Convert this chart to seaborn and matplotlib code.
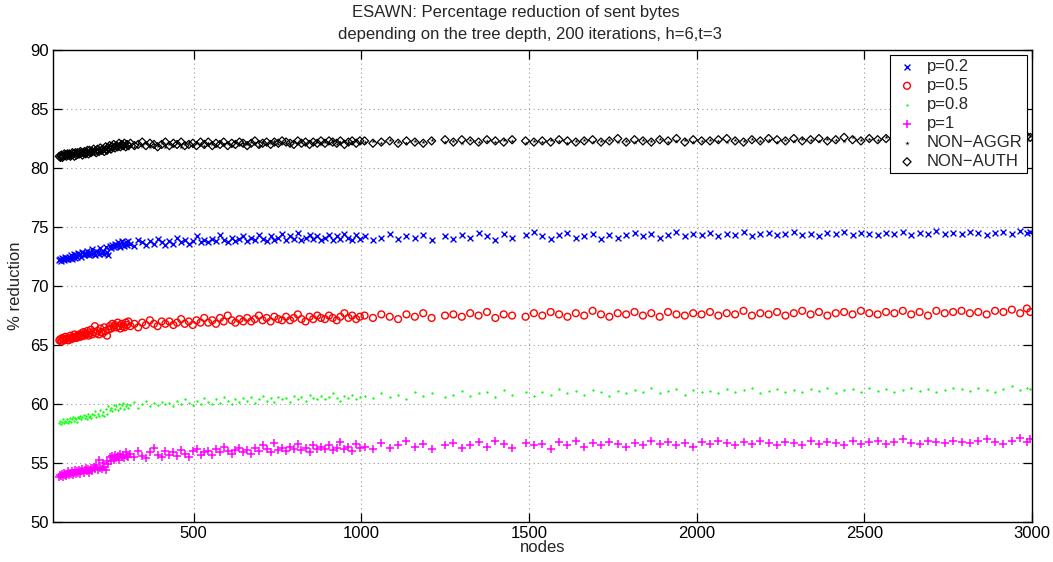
import matplotlib
matplotlib.use("Agg")
import matplotlib.pyplot as plt
import seaborn as sns
import pandas as pd

nodes = [100, 103, 106, 109, 112, 115, 118, 121, 124, 127,
         130, 133, 136, 139, 142, 145, 148, 151, 154, 157,
         160, 163, 166, 169, 172, 175, 178, 181, 184, 187,
         190, 194, 198, 202, 206, 210, 214, 218, 222, 226,
         230, 234, 238, 242, 246, 250, 254, 258, 262, 266,
         270, 274, 278, 282, 286, 290, 294, 298, 302, 306,
         312, 324, 335, 347, 358, 370, 382, 393, 405, 416,
         428, 440, 451, 463, 474, 486, 498, 509, 521, 532,
         544, 556, 567, 579, 590, 602, 614, 625, 637, 648,
         660, 672, 683, 695, 706, 718, 730, 741, 753, 764,
         776, 788, 799, 811, 822, 834, 846, 857, 869, 880,
         892, 904, 915, 927, 938, 950, 962, 973, 985, 996,
         1010, 1035, 1060, 1085, 1110, 1135, 1160, 1185, 1210, 1250,
         1275, 1300, 1325, 1350, 1375, 1400, 1425, 1450, 1490, 1515,
         1540, 1565, 1590, 1615, 1640, 1665, 1690, 1715, 1740, 1765,
         1790, 1815, 1840, 1865, 1890, 1915, 1940, 1965, 1990, 2015,
         2040, 2065, 2090, 2115, 2140, 2165, 2190, 2215, 2240, 2265,
         2290, 2315, 2340, 2365, 2390, 2415, 2440, 2465, 2490, 2515,
         2540, 2565, 2590, 2615, 2640, 2665, 2690, 2715, 2740, 2765,
         2790, 2815, 2840, 2865, 2890, 2915, 2940, 2965, 2985, 2995]

p02 = [72.2, 72.3, 72.1, 72.4, 72.3, 72.2, 72.5, 72.3, 72.4, 72.3,
       72.5, 72.4, 72.6, 72.3, 72.5, 72.7, 72.4, 72.6, 72.5, 72.8,
       72.6, 72.7, 72.5, 72.9, 72.6, 72.8, 72.7, 73.0, 72.7, 72.6,
       72.9, 72.7, 73.1, 72.8, 72.6, 73.0, 72.9, 72.7, 73.2, 72.8,
       73.0, 72.7, 73.3, 72.9, 72.6, 73.4, 73.2, 73.5, 73.3, 73.6,
       73.4, 73.7, 73.5, 73.3, 73.8, 73.6, 73.4, 73.7, 73.5, 73.8,
       73.6, 73.4, 73.9, 73.7, 73.5, 73.8, 73.6, 74.0, 73.7, 73.5,
       73.8, 73.6, 74.1, 73.7, 73.9, 73.6, 73.8, 74.2, 73.7, 73.9,
       73.7, 74.0, 73.8, 74.3, 73.9, 73.7, 74.1, 73.8, 74.0, 74.2,
       73.8, 74.1, 73.9, 74.3, 74.0, 73.8, 74.2, 73.9, 74.1, 74.4,
       73.9, 74.2, 74.0, 74.5, 73.9, 74.1, 74.3, 74.0, 74.2, 73.9,
       74.1, 74.3, 73.9, 74.2, 74.0, 74.4, 74.1, 73.9, 74.3, 74.0,
       74.2, 73.9, 74.1, 74.4, 74.0, 74.2, 74.1, 74.3, 73.9, 74.2,
       74.0, 74.3, 74.1, 74.5, 74.2, 73.9, 74.4, 74.1, 74.3, 74.6,
       74.2, 74.0, 74.3, 74.5, 74.1, 74.2, 74.4, 74.0, 74.3, 74.1,
       74.3, 74.5, 74.2, 74.4, 74.1, 74.3, 74.6, 74.2, 74.4, 74.3,
       74.5, 74.2, 74.4, 74.3, 74.6, 74.2, 74.4, 74.5, 74.3, 74.4,
       74.6, 74.3, 74.4, 74.2, 74.5, 74.4, 74.6, 74.3, 74.5, 74.4,
       74.3, 74.5, 74.4, 74.6, 74.3, 74.5, 74.4, 74.7, 74.4, 74.5,
       74.4, 74.6, 74.5, 74.3, 74.5, 74.6, 74.4, 74.7, 74.5, 74.6]

p05 = [65.4, 65.5, 65.3, 65.6, 65.5, 65.4, 65.7, 65.5, 65.6, 65.4,
       65.6, 65.8, 65.5, 65.7, 65.6, 65.9, 65.7, 65.6, 65.8, 65.7,
       65.9, 65.7, 66.0, 65.8, 66.1, 65.8, 66.0, 65.9, 66.2, 65.8,
       66.0, 66.3, 65.9, 66.1, 66.6, 66.0, 66.2, 65.9, 66.4, 66.1,
       66.0, 66.5, 66.2, 65.8, 66.3, 66.6, 66.4, 66.8, 66.5, 66.7,
       66.5, 66.9, 66.6, 66.4, 66.8, 66.6, 66.5, 66.9, 66.7, 67.0,
       66.6, 66.8, 66.5, 66.9, 66.7, 67.1, 66.8, 66.6, 67.0, 66.8,
       67.0, 66.7, 66.9, 67.2, 66.8, 67.0, 66.7, 67.1, 66.9, 67.3,
       66.9, 67.1, 66.8, 67.3, 67.0, 67.5, 67.1, 66.9, 67.2, 67.0,
       67.3, 67.0, 67.2, 67.5, 67.1, 67.3, 67.0, 67.4, 67.2, 67.1,
       67.4, 67.1, 67.3, 67.6, 67.2, 67.0, 67.4, 67.2, 67.5, 67.3,
       67.2, 67.5, 67.3, 67.1, 67.4, 67.7, 67.3, 67.5, 67.2, 67.4,
       67.5, 67.3, 67.6, 67.4, 67.2, 67.6, 67.4, 67.7, 67.3, 67.5,
       67.6, 67.4, 67.7, 67.5, 67.8, 67.3, 67.6, 67.5, 67.4, 67.7,
       67.5, 67.8, 67.6, 67.4, 67.7, 67.5, 67.9, 67.6, 67.4, 67.7,
       67.6, 67.8, 67.5, 67.7, 67.4, 67.8, 67.6, 67.5, 67.7, 67.6,
       67.8, 67.5, 67.7, 67.6, 67.9, 67.5, 67.7, 67.6, 67.8, 67.5,
       67.7, 67.9, 67.6, 67.8, 67.5, 67.7, 67.8, 67.6, 67.9, 67.7,
       67.6, 67.8, 67.7, 67.9, 67.6, 67.8, 67.5, 67.9, 67.7, 67.8,
       67.9, 67.7, 67.8, 67.6, 67.9, 67.8, 68.0, 67.7, 68.1, 67.8]

p08 = [58.4, 58.6, 58.3, 58.5, 58.7, 58.4, 58.6, 58.5, 58.7, 58.4,
       58.6, 58.8, 58.5, 58.7, 58.9, 58.6, 58.8, 58.7, 58.5, 58.9,
       58.8, 59.0, 58.7, 58.9, 59.1, 58.8, 59.0, 58.7, 59.2, 58.9,
       59.0, 58.8, 59.2, 59.1, 59.4, 58.9, 59.2, 59.0, 59.5, 59.1,
       59.3, 59.0, 59.6, 59.2, 59.8, 59.5, 59.7, 59.4, 59.9, 59.6,
       59.8, 59.5, 60.0, 59.7, 59.9, 60.1, 59.6, 59.8, 60.0, 59.7,
       59.9, 60.2, 59.7, 60.0, 60.3, 59.8, 60.1, 59.9, 60.2, 60.0,
       60.1, 59.8, 60.3, 60.0, 60.4, 60.1, 59.9, 60.3, 60.0, 60.5,
       60.2, 60.0, 60.4, 60.1, 60.6, 60.3, 60.0, 60.4, 60.2, 60.5,
       60.3, 60.6, 60.1, 60.4, 60.7, 60.3, 60.5, 60.2, 60.6, 60.4,
       60.5, 60.2, 60.7, 60.4, 60.6, 60.3, 60.8, 60.5, 60.4, 60.7,
       60.4, 60.6, 60.9, 60.5, 60.3, 60.7, 60.5, 60.8, 60.4, 60.6,
       60.7, 60.5, 60.9, 60.6, 60.8, 60.4, 61.0, 60.7, 60.9, 60.6,
       60.8, 61.1, 60.7, 60.9, 61.0, 60.6, 61.2, 60.8, 61.0, 60.7,
       61.0, 60.8, 61.3, 60.9, 61.1, 60.8, 61.2, 61.0, 60.7, 61.1,
       60.9, 61.2, 61.0, 61.4, 60.9, 61.1, 61.3, 60.8, 61.2, 61.0,
       61.1, 60.9, 61.3, 61.0, 61.2, 61.4, 60.9, 61.1, 61.3, 61.0,
       61.2, 61.0, 61.3, 61.1, 61.4, 60.9, 61.2, 61.3, 61.0, 61.4,
       61.1, 61.3, 61.0, 61.2, 61.4, 61.1, 61.3, 61.0, 61.2, 61.4,
       61.3, 61.1, 61.4, 61.2, 61.0, 61.3, 61.5, 61.2, 61.4, 61.3]

p1 = [53.8, 54.0, 53.9, 54.1, 53.8, 54.2, 54.0, 53.9, 54.1, 54.3,
      54.0, 54.2, 54.1, 54.3, 54.0, 54.2, 54.4, 54.1, 54.3, 54.2,
      54.4, 54.1, 54.3, 54.5, 54.2, 54.4, 54.6, 54.3, 54.5, 54.2,
      54.4, 54.6, 54.3, 54.7, 54.5, 54.8, 54.4, 55.3, 54.6, 54.5,
      55.0, 54.7, 54.4, 55.2, 54.9, 55.5, 55.2, 55.6, 55.3, 55.7,
      55.4, 55.6, 55.3, 55.8, 55.5, 55.7, 55.4, 55.9, 55.6, 55.5,
      55.8, 55.5, 56.0, 55.6, 55.4, 55.9, 56.3, 55.7, 55.5, 56.0,
      55.7, 55.9, 55.6, 56.1, 55.8, 55.5, 56.0, 56.2, 55.7, 55.9,
      56.0, 55.7, 56.2, 55.9, 56.4, 56.0, 55.8, 56.1, 56.3, 55.9,
      56.1, 55.8, 56.3, 56.0, 56.5, 56.2, 55.9, 56.7, 56.1, 56.3,
      56.0, 56.4, 56.2, 56.6, 56.1, 56.3, 55.9, 56.5, 56.2, 56.4,
      56.2, 56.5, 56.1, 56.3, 56.8, 56.2, 56.4, 56.0, 56.6, 56.3,
      56.4, 56.2, 56.7, 56.3, 56.5, 56.9, 56.4, 56.6, 56.2, 56.5,
      56.7, 56.3, 56.5, 56.8, 56.4, 56.9, 56.6, 56.3, 56.7, 56.5,
      56.6, 56.2, 56.8, 56.5, 56.9, 56.4, 56.7, 56.5, 56.8, 56.6,
      56.4, 56.7, 56.5, 56.9, 56.6, 56.8, 56.5, 56.7, 56.4, 56.8,
      56.6, 56.9, 56.7, 56.5, 56.8, 56.6, 56.9, 56.7, 56.5, 56.8,
      56.7, 56.5, 56.9, 56.6, 56.8, 56.7, 56.5, 56.9, 56.6, 56.8,
      56.9, 56.6, 56.8, 57.0, 56.7, 56.6, 56.9, 56.8, 56.7, 56.9,
      56.8, 56.7, 56.9, 57.0, 56.8, 56.6, 56.9, 57.1, 56.8, 57.0]

non_aggr = [80.9, 81.0, 80.8, 81.0, 81.1, 80.9, 81.0, 81.1, 81.0, 81.2,
            81.0, 81.1, 81.2, 81.0, 81.1, 81.3, 81.1, 81.2, 81.0, 81.2,
            81.3, 81.1, 81.2, 81.4, 81.2, 81.3, 81.1, 81.4, 81.2, 81.3,
            81.4, 81.2, 81.5, 81.3, 81.4, 81.6, 81.3, 81.5, 81.4, 81.6,
            81.5, 81.7, 81.4, 81.6, 81.8, 81.5, 81.7, 81.9, 81.6, 81.8,
            81.7, 81.9, 81.8, 82.0, 81.7, 81.9, 81.8, 82.0, 81.9, 81.7,
            81.9, 81.8, 82.0, 81.9, 82.1, 81.8, 82.0, 81.9, 82.1, 81.8,
            82.0, 81.9, 82.1, 81.8, 82.0, 82.2, 81.9, 82.1, 82.0, 81.9,
            82.1, 82.0, 81.9, 82.2, 82.0, 82.1, 81.9, 82.2, 82.0, 82.1,
            82.0, 82.2, 82.1, 81.9, 82.2, 82.0, 82.1, 82.3, 82.0, 82.2,
            82.1, 82.0, 82.3, 82.1, 82.2, 82.0, 82.3, 82.1, 82.2, 82.0,
            82.2, 82.1, 82.3, 82.0, 82.2, 82.3, 82.1, 82.2, 82.4, 82.1,
            82.2, 82.3, 82.1, 82.4, 82.2, 82.1, 82.3, 82.2, 82.4, 82.2,
            82.3, 82.1, 82.4, 82.2, 82.3, 82.2, 82.4, 82.3, 82.1, 82.3,
            82.2, 82.4, 82.3, 82.1, 82.3, 82.4, 82.2, 82.3, 82.4, 82.2,
            82.3, 82.2, 82.4, 82.3, 82.5, 82.2, 82.3, 82.4, 82.2, 82.3,
            82.4, 82.3, 82.2, 82.4, 82.3, 82.5, 82.3, 82.4, 82.2, 82.4,
            82.3, 82.5, 82.4, 82.3, 82.5, 82.4, 82.3, 82.6, 82.4, 82.5,
            82.4, 82.6, 82.5, 82.4, 82.6, 82.5, 82.4, 82.5, 82.6, 82.4,
            82.5, 82.6, 82.4, 82.6, 82.5, 82.7, 82.5, 82.6, 82.4, 82.7]

non_auth = [81.0, 80.9, 81.1, 80.9, 81.0, 81.2, 81.1, 81.0, 81.2, 81.1,
            81.2, 81.0, 81.1, 81.3, 81.2, 81.0, 81.3, 81.1, 81.3, 81.2,
            81.2, 81.4, 81.3, 81.1, 81.3, 81.4, 81.2, 81.3, 81.5, 81.2,
            81.5, 81.3, 81.4, 81.6, 81.4, 81.3, 81.6, 81.4, 81.7, 81.5,
            81.6, 81.4, 81.8, 81.5, 81.7, 81.9, 81.6, 81.8, 82.0, 81.7,
            81.9, 81.8, 82.1, 81.8, 82.0, 81.9, 82.1, 81.8, 82.0, 81.9,
            82.1, 81.9, 82.0, 82.2, 81.9, 82.1, 82.0, 81.8, 82.0, 82.2,
            81.9, 82.1, 82.0, 82.2, 81.9, 82.0, 82.1, 81.9, 82.2, 82.0,
            82.2, 81.9, 82.1, 82.0, 82.2, 81.9, 82.1, 82.0, 82.2, 82.1,
            81.9, 82.1, 82.3, 82.0, 82.1, 82.2, 82.0, 82.2, 82.1, 82.3,
            82.2, 82.1, 82.0, 82.3, 82.1, 82.2, 82.0, 82.2, 82.1, 82.3,
            82.1, 82.3, 82.2, 82.1, 82.3, 82.0, 82.2, 82.3, 82.1, 82.3,
            82.3, 82.1, 82.2, 82.3, 82.1, 82.3, 82.2, 82.1, 82.3, 82.4,
            82.2, 82.4, 82.3, 82.2, 82.4, 82.3, 82.2, 82.4, 82.3, 82.2,
            82.3, 82.2, 82.4, 82.3, 82.2, 82.3, 82.4, 82.2, 82.3, 82.5,
            82.2, 82.4, 82.3, 82.2, 82.4, 82.3, 82.5, 82.2, 82.4, 82.3,
            82.3, 82.4, 82.5, 82.3, 82.2, 82.4, 82.3, 82.5, 82.4, 82.3,
            82.5, 82.3, 82.4, 82.5, 82.3, 82.4, 82.6, 82.4, 82.3, 82.5,
            82.4, 82.5, 82.3, 82.5, 82.4, 82.6, 82.5, 82.4, 82.6, 82.5,
            82.6, 82.4, 82.5, 82.7, 82.5, 82.6, 82.4, 82.6, 82.7, 82.6]

labels = ["p=0.2", "p=0.5", "p=0.8", "p=1", "NON\u2212AGGR", "NON\u2212AUTH"]
series = [p02, p05, p08, p1, non_aggr, non_auth]
xticks = [500, 1000, 1500, 2000, 2500, 3000]
yticks = [50, 55, 60, 65, 70, 75, 80, 85, 90]
title_lines = ["ESAWN: Percentage reduction of sent bytes",
               "depending on the tree depth, 200 iterations, h=6,t=3"]

sns.set_style("white")
plt.rcParams["font.family"] = ["Liberation Sans", "DejaVu Sans"]

FS = 12

fig = plt.figure(figsize=(10.53, 5.62), dpi=100)
ax = fig.add_axes([0.050, 0.071, 0.930, 0.840])

styles = [
    dict(marker="x", color="#0000ff", s=18, linewidth=1.0),
    dict(marker="o", facecolors="none", edgecolor="#ff0000", s=24, linewidth=1.0),
    dict(marker=".", color="#00ff00", s=11, linewidth=0),
    dict(marker="+", color="#ff00ff", s=32, linewidth=1.1),
    dict(marker="*", color="black", s=16, linewidth=0.3),
    dict(marker="D", facecolors="none", edgecolor="black", s=17, linewidth=0.9),
]

for lab, vals, st in zip(labels, series, styles):
    df = pd.DataFrame({"nodes": nodes, "val": vals})
    sns.scatterplot(data=df, x="nodes", y="val", ax=ax, label=lab, **st)

ax.set_xlim(80, 3000)
ax.set_ylim(50, 90)
ax.set_xticks(xticks)
ax.set_yticks(yticks)
ax.tick_params(direction="in", length=6.5, width=0.9, labelsize=FS,
               bottom=True, left=True, top=True, right=True, pad=3, colors="black")
ax.grid(True, linestyle=(0, (1, 3)), color="#999999", linewidth=0.8)
for sp in ax.spines.values():
    sp.set_color("black")
    sp.set_linewidth(1.0)

ax.set_xlabel("nodes", fontsize=FS, labelpad=-1)
ax.set_ylabel("% reduction", fontsize=FS, labelpad=5)
fig.text(516 / 1053, 1 - 13 / 562, title_lines[0], fontsize=FS, ha="center", va="center")
fig.text(530 / 1053, 1 - 34 / 562, title_lines[1], fontsize=FS, ha="center", va="center")

leg = ax.legend(loc="upper right", fontsize=FS, frameon=True, fancybox=False,
                borderaxespad=0.3, handletextpad=0.4, labelspacing=0.24,
                borderpad=0.25, markerscale=1.0, handlelength=1.6)
leg.get_frame().set_edgecolor("black")
leg.get_frame().set_linewidth(0.8)
leg.get_frame().set_alpha(1)

fig.savefig("out.png", dpi=100)
